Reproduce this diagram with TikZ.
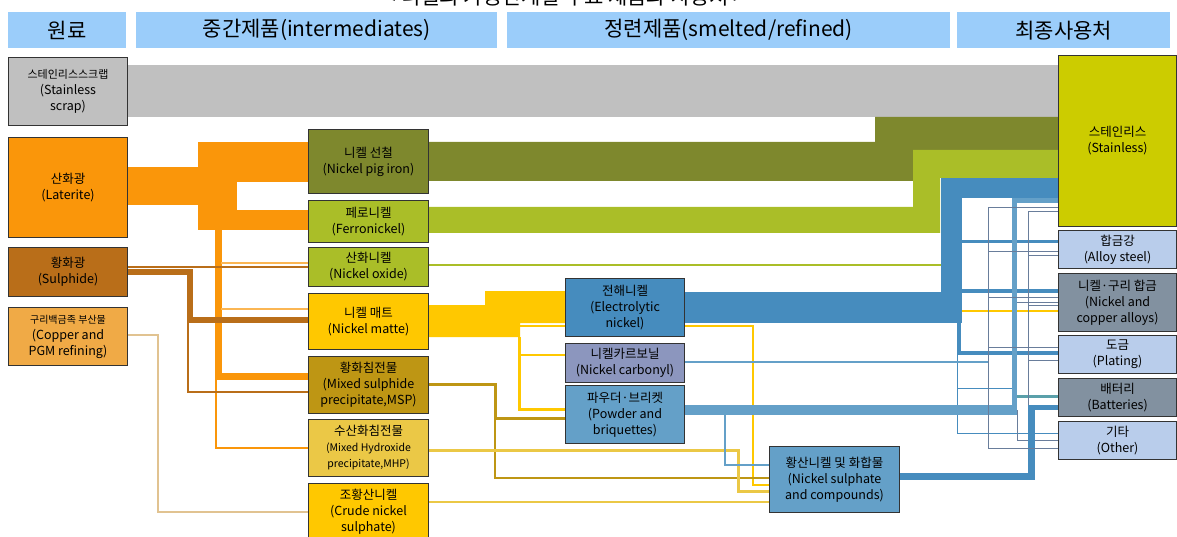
\documentclass[tikz,border=0pt]{standalone}
\usepackage{fontspec}
\setmainfont{Noto Sans CJK KR}
\usetikzlibrary{backgrounds}
\definecolor{headblue}{RGB}{155,205,250}
\definecolor{scrapgray}{RGB}{192,192,192}
\definecolor{lateorange}{RGB}{250,150,10}
\definecolor{sulphbrown}{RGB}{185,110,25}
\definecolor{copperorange}{RGB}{240,170,70}
\definecolor{copperline}{RGB}{225,195,145}
\definecolor{pigolive}{RGB}{126,136,45}
\definecolor{ferrogreen}{RGB}{170,190,40}
\definecolor{matteyellow}{RGB}{255,200,0}
\definecolor{mspgold}{RGB}{190,150,20}
\definecolor{mhpyellow}{RGB}{235,200,70}
\definecolor{elecblue}{RGB}{70,140,190}
\definecolor{carbgray}{RGB}{140,150,190}
\definecolor{powblue}{RGB}{100,160,200}
\definecolor{stainyellow}{RGB}{204,204,0}
\definecolor{uselight}{RGB}{185,205,235}
\definecolor{usegray}{RGB}{130,145,160}
\definecolor{fangray}{RGB}{105,125,155}
\definecolor{battteal}{RGB}{90,160,170}

\tikzset{
  stagebox/.style={draw=black!80, line width=1pt, anchor=north west, align=center,
    inner sep=0pt, font=\fontsize{12.5}{16}\selectfont},
  headbar/.style={fill=headblue, anchor=north west, inner sep=0pt,
    minimum height=36, font=\fontsize{21}{24}\selectfont},
  fanline/.style={fangray, line width=1pt},
}

\begin{document}
\begin{tikzpicture}[x=1pt,y=-1pt]
\useasboundingbox (0,0) rectangle (1177,537);
\node[font=\fontsize{21}{24}\selectfont] (title) at (565,-3) {< 니켈의 가공단계별 주요 제품과 사용처 >};
\node[headbar, minimum width=118] (hraw) at (8,12) {원료};
\node[headbar, minimum width=361] (hint) at (136,12) {중간제품(intermediates)};
\node[headbar, minimum width=443] (href) at (507,12) {정련제품(smelted/refined)};
\node[headbar, minimum width=213] (huse) at (957,12) {최종사용처};
% raw materials
\node[stagebox, fill=scrapgray, minimum width=119, minimum height=68] (scrap) at (8,57) {{\fontsize{11}{14}\selectfont 스테인리스스크랩}\\(Stainless\\scrap)};
\node[stagebox, fill=lateorange, minimum width=119, minimum height=100] (lat) at (8,137) {산화광\\(Laterite)};
\node[stagebox, fill=sulphbrown, minimum width=119, minimum height=49] (sul) at (8,247) {황화광\\(Sulphide)};
\node[stagebox, fill=copperorange, minimum width=119, minimum height=58] (cu) at (8,307) {{\fontsize{10}{13}\selectfont 구리백금족 부산물}\\(Copper and\\PGM refining)};
% intermediates
\node[stagebox, fill=pigolive, minimum width=120, minimum height=64] (npi) at (308,129) {니켈 선철\\(Nickel pig iron)};
\node[stagebox, fill=ferrogreen, minimum width=120, minimum height=42] (feni) at (308,200) {페로니켈\\(Ferronickel)};
\node[stagebox, fill=ferrogreen, minimum width=120, minimum height=39] (nio) at (308,247) {산화니켈\\(Nickel oxide)};
\node[stagebox, fill=matteyellow, minimum width=120, minimum height=56] (matte) at (308,293) {니켈 매트\\(Nickel matte)};
\node[stagebox, fill=mspgold, minimum width=120, minimum height=57] (msp) at (308,356) {황화침전물\\(Mixed sulphide\\precipitate,MSP)};
\node[stagebox, fill=mhpyellow, minimum width=120, minimum height=57] (mhp) at (308,419) {수산화침전물\\{\fontsize{10.5}{16}\selectfont (Mixed Hydroxide}\\{\fontsize{10.5}{16}\selectfont precipitate,MHP)}};
\node[stagebox, fill=matteyellow, minimum width=120, minimum height=56] (crude) at (308,483) {조황산니켈\\(Crude nickel\\sulphate)};
% smelted / refined
\node[stagebox, fill=elecblue, minimum width=119, minimum height=58] (elec) at (565,278) {전해니켈\\(Electrolytic\\nickel)};
\node[stagebox, fill=carbgray, minimum width=119, minimum height=39] (carb) at (565,343) {니켈카르보닐\\(Nickel carbonyl)};
\node[stagebox, fill=powblue, minimum width=119, minimum height=58] (pow) at (565,385) {파우더·브리켓\\(Powder and\\briquettes)};
\node[stagebox, fill=powblue, minimum width=130, minimum height=66] (sulf) at (769,446) {황산니켈 및 화합물\\(Nickel sulphate\\and compounds)};
% end uses
\node[stagebox, fill=stainyellow, minimum width=118, minimum height=171] (stain) at (1058,55) {스테인리스\\(Stainless)};
\node[stagebox, fill=uselight, minimum width=118, minimum height=38] (alloy) at (1058,230) {합금강\\(Alloy steel)};
\node[stagebox, fill=usegray, minimum width=118, minimum height=58] (nicu) at (1058,273) {니켈·구리 합금\\(Nickel and\\copper alloys)};
\node[stagebox, fill=uselight, minimum width=118, minimum height=38] (plat) at (1058,335) {도금\\(Plating)};
\node[stagebox, fill=usegray, minimum width=118, minimum height=38] (batt) at (1058,378) {배터리\\(Batteries)};
\node[stagebox, fill=uselight, minimum width=118, minimum height=38] (oth) at (1058,421) {기타\\(Other)};

\begin{scope}[on background layer]
% scrap
\fill[scrapgray] (scrap.east |- 0,65) rectangle (stain.west |- 0,117);
% laterite
\fill[lateorange] (lat.east |- 0,167) rectangle (198,205);
\fill[lateorange] (198,142) rectangle (237,230);
\fill[lateorange] (237,142) rectangle (npi.west |- 0,182);
\fill[lateorange] (237,210) rectangle (feni.west |- 0,230);
\draw[lateorange, line width=7] (218.5,205) |- (msp.west |- 0,376.5);
\draw[lateorange, line width=1.5] (216,380) |- (mhp.west |- 0,448);
\draw[lateorange!70, line width=1.2] (221,263) -- (nio.west |- 0,263);
\draw[lateorange!70, line width=1.2] (221,309) -- (matte.west |- 0,309);
% sulphide
\draw[sulphbrown, line width=1.5] (sul.east |- 0,267) -- (nio.west |- 0,267);
\draw[sulphbrown, line width=6] (sul.east |- 0,272) -| (190,320) -- (matte.west |- 0,320);
\draw[sulphbrown, line width=1.5] (188,320) |- (msp.west |- 0,392);
% copper and PGM
\draw[copperline, line width=1.5] (cu.east |- 0,335) -| (158,512) -- (crude.west |- 0,512);
% pig iron, ferronickel, oxide
\fill[pigolive] (npi.east |- 0,142) -- (875,142) -- (875,117) -- (stain.west |- 0,117) -- (stain.west |- 0,150) -- (913,150) -- (913,181) -- (npi.east |- 0,181) -- cycle;
\fill[ferrogreen] (feni.east |- 0,207) -- (913,207) -- (913,150) -- (stain.west |- 0,150) -- (stain.west |- 0,178) -- (940,178) -- (940,233) -- (feni.east |- 0,233) -- cycle;
\draw[ferrogreen, line width=2] (nio.east |- 0,265) -- (942,265);
% matte
\draw[matteyellow, line width=1.2] (520,311) -- (nicu.west |- 0,311);
\fill[matteyellow] (matte.east |- 0,305) -- (485,305) -- (485,291) -- (elec.west |- 0,291) -- (elec.west |- 0,323) -- (520,323) -- (520,337) -- (matte.east |- 0,337) -- cycle;
\draw[matteyellow, line width=1.2] (520,326) -- (753,326) |- (sulf.west |- 0,485);
\draw[matteyellow, line width=1.2] (520,337) |- (carb.west |- 0,355);
\draw[matteyellow, line width=3] (519,337) |- (pow.west |- 0,409);
% MSP, MHP, crude sulphate
\draw[mspgold, line width=3] (msp.east |- 0,384) -| (495,418.5) -- (pow.west |- 0,418.5);
\draw[mspgold, line width=1.2] (495,420) |- (sulf.west |- 0,478);
\draw[mhpyellow, line width=3] (mhp.east |- 0,450) -| (738.5,491.5) -- (sulf.west |- 0,491.5);
\draw[mhpyellow, line width=1.2] (crude.east |- 0,502) -- (sulf.west |- 0,502);
% electrolytic nickel
\fill[elecblue] (elec.east |- 0,292) rectangle (962,323);
\fill[elecblue] (941,178) rectangle (962,323);
\fill[elecblue] (962,178) rectangle (stain.west |- 0,198);
\draw[elecblue, line width=3.5] (962,241.5) -- (alloy.west |- 0,241.5);
\draw[elecblue, line width=4.5] (962,291) -- (nicu.west |- 0,291);
\draw[elecblue, line width=4] (959,323) |- (plat.west |- 0,353);
\draw[elecblue, line width=1] (957.5,355) |- (oth.west |- 0,433);
\draw[elecblue, line width=1] (957.5,388) -- (1013,388);
% powder and briquettes
\fill[powblue] (pow.east |- 0,405) rectangle (1017,415);
\fill[powblue] (1012,198) rectangle (1017,415);
\fill[powblue] (1017,198) rectangle (stain.west |- 0,203);
\draw[battteal, line width=3] (1017,396.5) -- (batt.west |- 0,396.5);
\draw[fanline] (1017,302) -- (nicu.west |- 0,302);
\draw[fanline] (1017,410) |- (oth.west |- 0,440);
\draw[powblue, line width=1.2] (725,415) |- (sulf.west |- 0,465);
% nickel sulphate
\fill[elecblue] (sulf.east |- 0,473) rectangle (1035,480);
\fill[elecblue] (1028,405) rectangle (1035,480);
\fill[elecblue] (1035,405) rectangle (batt.west |- 0,410);
\draw[fanline] (1028,212) -- (1028,405);
\draw[fanline] (1028,212) -- (stain.west |- 0,212);
\draw[fanline] (1028,256) -- (alloy.west |- 0,256);
\draw[fanline] (1028,305) -- (nicu.west |- 0,305);
\draw[fanline] (1028,360) -- (plat.west |- 0,360);
% nickel carbonyl
\draw[powblue, line width=1.5] (carb.east |- 0,362) -- (988,362);
\draw[fanline] (988,208) -- (988,448);
\draw[fanline] (988,208) -- (stain.west |- 0,208);
\draw[fanline] (988,252) -- (alloy.west |- 0,252);
\draw[fanline] (988,297) -- (nicu.west |- 0,297);
\draw[fanline] (988,347) -- (plat.west |- 0,347);
\draw[fanline] (988,448) -- (oth.west |- 0,448);
\end{scope}
\end{tikzpicture}
\end{document}
